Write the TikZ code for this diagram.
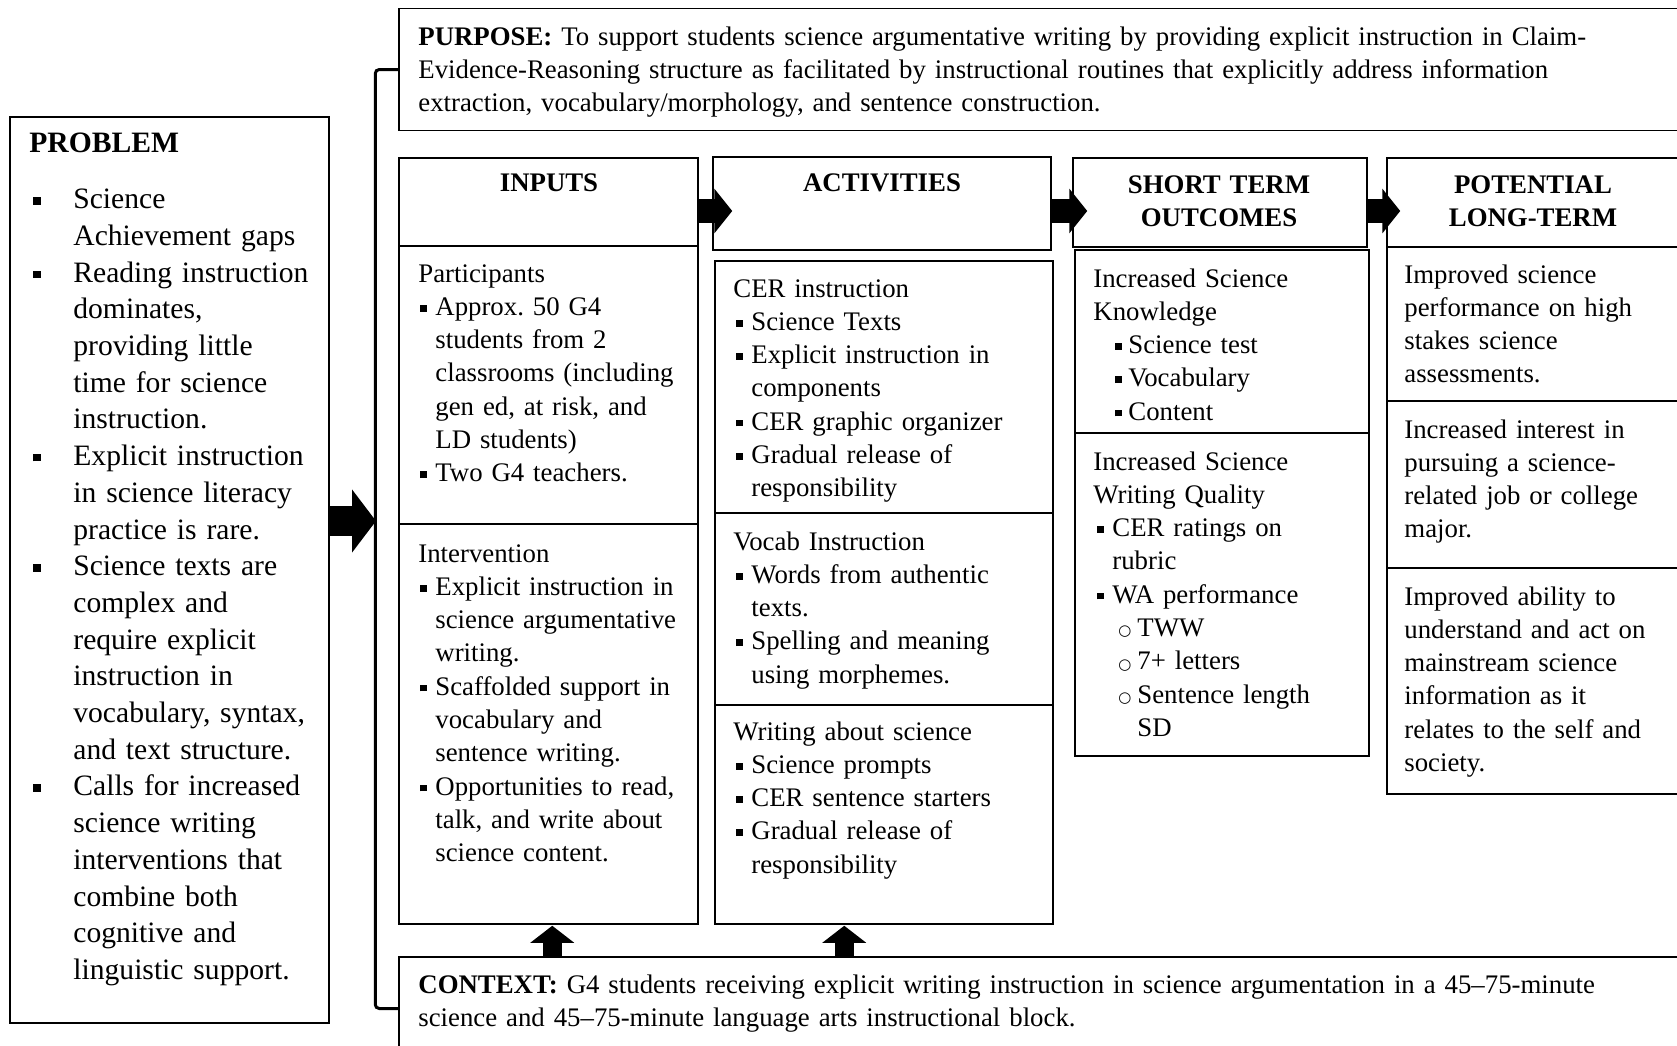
\documentclass[tikz,border=0pt]{standalone}
\usepackage{fontspec}
\setmainfont{Liberation Serif}
\newfontfamily\symfont{DejaVu Sans}
\usetikzlibrary{arrows.meta,fit,calc}

% type sizes
\newcommand\bodysize{\fontsize{13.4pt}{16.65pt}\selectfont\setlength\parskip{0pt}\frenchspacing}
\newcommand\probsize{\fontsize{14.8pt}{18.35pt}\selectfont\setlength\parskip{0pt}\frenchspacing}
% list marks
\newcommand\sqbul{\rule[0.14em]{0.25em}{0.25em}}
\newcommand\circbul{\raisebox{0.3pt}{\symfont\fontsize{7.5pt}{7.5pt}\selectfont ○}}
% \bitem{mark offset}{text indent}{mark}{lines}
\newcommand\bitem[4]{\par\noindent\hangindent=#2\hangafter=1\makebox[#2][l]{\hspace*{#1}#3}#4\par}

\tikzset{
  box/.style={draw, line width=0.75pt, inner sep=0pt},
  txt/.style={anchor=base west, inner sep=0pt, font=\bodysize},
  hdr/.style={anchor=base, inner sep=0pt, font=\bodysize\bfseries, align=center},
  flow/.style={line width=12pt, -{Triangle[width=22pt,length=9pt]}},
  bigflow/.style={line width=15pt, -{Triangle[width=31pt,length=12pt]}},
  upflow/.style={line width=9.5pt, -{Triangle[width=21.5pt,length=8.5pt]}},
  bracket/.style={line width=1.5pt, rounded corners=2pt}
}

\begin{document}
\begin{tikzpicture}[x=0.5pt, y=-0.5pt]
\clip (0,0) rectangle (1677,1045);

% ---------- problem ----------
\node[box, fit={(10,117) (329,1023)}] (prob) {};
\node[txt, font=\probsize, text width=148pt] (probT) at (29,152) {%
\textbf{PROBLEM}\par\vspace{10pt}%
\bitem{2pt}{22pt}{\sqbul}{Science\newline Achievement gaps}%
\bitem{2pt}{22pt}{\sqbul}{Reading instruction\newline dominates,\newline providing little\newline time for science\newline instruction.}%
\bitem{2pt}{22pt}{\sqbul}{Explicit instruction\newline in science literacy\newline practice is rare.}%
\bitem{2pt}{22pt}{\sqbul}{Science texts are\newline complex and\newline require explicit\newline instruction in\newline vocabulary, syntax,\newline and text structure.}%
\bitem{2pt}{22pt}{\sqbul}{Calls for increased\newline science writing\newline interventions that\newline combine both\newline cognitive and\newline linguistic support.}};

% ---------- purpose and context ----------
\node[box, fit={(399,8.5) (1700,130.5)}] (purpose) {};
\node[txt, text width=625pt] (purposeT) at (418,45) {%
\textbf{PURPOSE:} To support students science argumentative writing by providing explicit instruction in Claim-\newline
Evidence-Reasoning structure as facilitated by instructional routines that explicitly address information\newline
extraction, vocabulary/morphology, and sentence construction.};

\node[box, fit={(399,957) (1700,1060)}] (ctx) {};
\node[txt, text width=625pt] (ctxT) at (418,993) {%
\textbf{CONTEXT:} G4 students receiving explicit writing instruction in science argumentation in a 45–75-minute\newline
science and 45–75-minute language arts instructional block.};

% bracket joining purpose and context
\draw[bracket] (purpose.west) -- ++(-11.5pt,0) |- (ctx.west);
\coordinate (brk) at (376,521);
\draw[bigflow] ($(prob.east |- brk)$) -- (brk);

% ---------- inputs ----------
\node[box, fit={(399,158) (698,246)}] (inh) {};
\node[box, fit={(399,246) (698,524)}] (part) {};
\node[box, fit={(399,524) (698,924)}] (intv) {};
\node[hdr] (inhT) at (549,191) {INPUTS};
\node[txt, text width=138pt] (partT) at (418,282) {%
Participants%
\bitem{1pt}{8.5pt}{\sqbul}{Approx. 50 G4\newline students from 2\newline classrooms (including\newline gen ed, at risk, and\newline LD students)}%
\bitem{1pt}{8.5pt}{\sqbul}{Two G4 teachers.}};
\node[txt, text width=138pt] (intvT) at (418,562) {%
Intervention%
\bitem{1pt}{8.5pt}{\sqbul}{Explicit instruction in\newline science argumentative\newline writing.}%
\bitem{1pt}{8.5pt}{\sqbul}{Scaffolded support in\newline vocabulary and\newline sentence writing.}%
\bitem{1pt}{8.5pt}{\sqbul}{Opportunities to read,\newline talk, and write about\newline science content.}};

% ---------- activities ----------
\node[box, fit={(713,157) (1051,250)}] (acth) {};
\node[box, fit={(715,261) (1053,513)}] (cer) {};
\node[box, fit={(715,513) (1053,705)}] (voc) {};
\node[box, fit={(715,705) (1053,924)}] (wrt) {};
\node[hdr] (acthT) at (882,191) {ACTIVITIES};
\node[txt, text width=155pt] (cerT) at (733,297) {%
CER instruction%
\bitem{1.5pt}{9pt}{\sqbul}{Science Texts}%
\bitem{1.5pt}{9pt}{\sqbul}{Explicit instruction in\newline components}%
\bitem{1.5pt}{9pt}{\sqbul}{CER graphic organizer}%
\bitem{1.5pt}{9pt}{\sqbul}{Gradual release of\newline responsibility}};
\node[txt, text width=155pt] (vocT) at (733,550) {%
Vocab Instruction%
\bitem{1.5pt}{9pt}{\sqbul}{Words from authentic\newline texts.}%
\bitem{1.5pt}{9pt}{\sqbul}{Spelling and meaning\newline using morphemes.}};
\node[txt, text width=155pt] (wrtT) at (733,740) {%
Writing about science%
\bitem{1.5pt}{9pt}{\sqbul}{Science prompts}%
\bitem{1.5pt}{9pt}{\sqbul}{CER sentence starters}%
\bitem{1.5pt}{9pt}{\sqbul}{Gradual release of\newline responsibility}};

% ---------- short term outcomes ----------
\node[box, fit={(1073,158) (1367,247)}] (stoh) {};
\node[box, fit={(1075,250) (1369,433)}] (know) {};
\node[box, fit={(1075,433) (1369,756)}] (qual) {};
\node[hdr, text width=140pt] (stohT) at (1219,193) {SHORT TERM\\OUTCOMES};
\node[txt, text width=135pt] (knowT) at (1093,287) {%
Increased Science\newline Knowledge%
\bitem{11pt}{17.5pt}{\sqbul}{Science test}%
\bitem{11pt}{17.5pt}{\sqbul}{Vocabulary}%
\bitem{11pt}{17.5pt}{\sqbul}{Content}};
\node[txt, text width=135pt] (qualT) at (1093,470) {%
Increased Science\newline Writing Quality%
\bitem{2pt}{9.5pt}{\sqbul}{CER ratings on\newline rubric}%
\bitem{2pt}{9.5pt}{\sqbul}{WA performance}%
\bitem{12.5pt}{22pt}{\circbul}{TWW}%
\bitem{12.5pt}{22pt}{\circbul}{7+ letters}%
\bitem{12.5pt}{22pt}{\circbul}{Sentence length\newline SD}};

% ---------- potential long-term ----------
\node[box, fit={(1387,158) (1700,247)}] (plth) {};
\node[box, fit={(1387,247) (1700,401)}] (lt1) {};
\node[box, fit={(1387,401) (1700,568)}] (lt2) {};
\node[box, fit={(1387,568) (1700,794)}] (lt3) {};
\node[hdr, text width=140pt] (plthT) at (1533,193) {POTENTIAL\\LONG-TERM};
\node[txt, text width=136pt] (lt1T) at (1404,283) {%
Improved science\newline performance on high\newline stakes science\newline assessments.};
\node[txt, text width=136pt] (lt2T) at (1404,438) {%
Increased interest in\newline pursuing a science-\newline related job or college\newline major.};
\node[txt, text width=136pt] (lt3T) at (1404,605) {%
Improved ability to\newline understand and act on\newline mainstream science\newline information as it\newline relates to the self and\newline society.};

% ---------- flow arrows ----------
\draw[flow] ($(inh.east)+(0,9)$) -- ($(inh.east -| acth.west)+(20,9)$);
\draw[flow] ($(acth.east)+(0,7.5)$) -- ($(acth.east -| stoh.west)+(15,7.5)$);
\draw[flow] ($(stoh.east)+(0,8.5)$) -- ($(stoh.east -| plth.west)+(14,8.5)$);
\draw[upflow] ($(ctx.north west)+(154,0)$) -- ($(intv.south west)+(154,1)$);
\draw[upflow] ($(ctx.north west)+(446,0)$) -- ($(wrt.south west)+(130,1)$);
\end{tikzpicture}
\end{document}
